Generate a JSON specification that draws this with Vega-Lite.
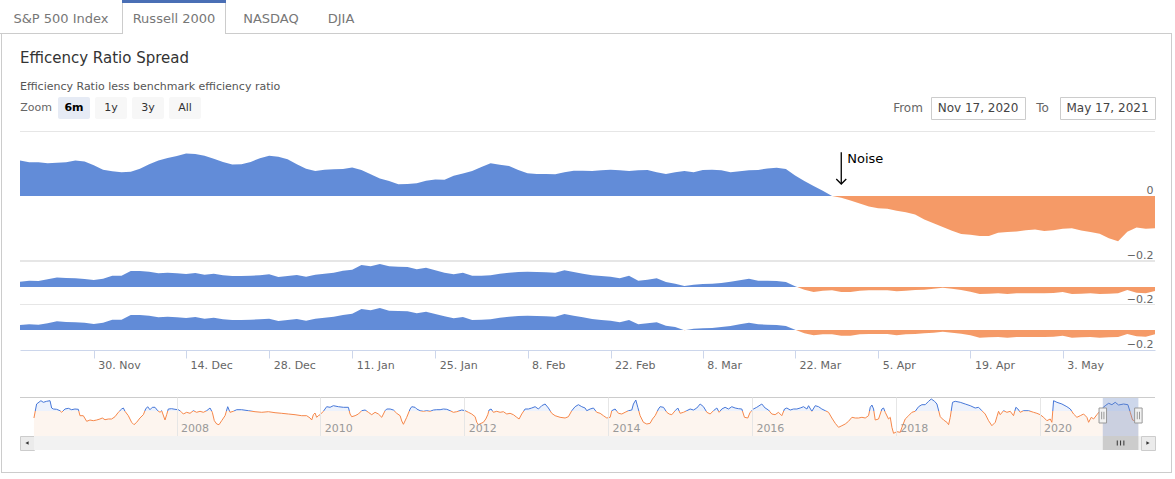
{
  "$schema": "https://vega.github.io/schema/vega-lite/v6.json",
  "padding": 0,
  "background": "white",
  "config": {
    "view": {"stroke": null},
    "concat": {"spacing": 0},
    "font": "DejaVu Sans",
    "text": {"font": "DejaVu Sans"}
  },
  "datasets": {
    "one": [{"k": 1}],
    "days": [
      {"d":"2020-11-17","a":0.109,"b":0.059,"c":0.050},
      {"d":"2020-11-18","a":0.104,"b":0.070,"c":0.057},
      {"d":"2020-11-19","a":0.104,"b":0.067,"c":0.053},
      {"d":"2020-11-20","a":0.101,"b":0.085,"c":0.067},
      {"d":"2020-11-23","a":0.102,"b":0.107,"c":0.087},
      {"d":"2020-11-24","a":0.104,"b":0.100,"c":0.080},
      {"d":"2020-11-25","a":0.109,"b":0.096,"c":0.077},
      {"d":"2020-11-27","a":0.106,"b":0.089,"c":0.073},
      {"d":"2020-11-30","a":0.095,"b":0.078,"c":0.060},
      {"d":"2020-12-01","a":0.081,"b":0.093,"c":0.073},
      {"d":"2020-12-02","a":0.076,"b":0.126,"c":0.103},
      {"d":"2020-12-03","a":0.073,"b":0.126,"c":0.103},
      {"d":"2020-12-04","a":0.075,"b":0.178,"c":0.150},
      {"d":"2020-12-07","a":0.084,"b":0.178,"c":0.150},
      {"d":"2020-12-08","a":0.098,"b":0.170,"c":0.143},
      {"d":"2020-12-09","a":0.109,"b":0.152,"c":0.127},
      {"d":"2020-12-10","a":0.117,"b":0.159,"c":0.133},
      {"d":"2020-12-11","a":0.123,"b":0.152,"c":0.127},
      {"d":"2020-12-14","a":0.131,"b":0.144,"c":0.120},
      {"d":"2020-12-15","a":0.129,"b":0.156,"c":0.130},
      {"d":"2020-12-16","a":0.124,"b":0.137,"c":0.113},
      {"d":"2020-12-17","a":0.115,"b":0.148,"c":0.123},
      {"d":"2020-12-18","a":0.105,"b":0.130,"c":0.107},
      {"d":"2020-12-21","a":0.097,"b":0.122,"c":0.100},
      {"d":"2020-12-22","a":0.098,"b":0.122,"c":0.100},
      {"d":"2020-12-23","a":0.105,"b":0.126,"c":0.103},
      {"d":"2020-12-24","a":0.116,"b":0.130,"c":0.107},
      {"d":"2020-12-28","a":0.124,"b":0.141,"c":0.113},
      {"d":"2020-12-29","a":0.121,"b":0.111,"c":0.090},
      {"d":"2020-12-30","a":0.113,"b":0.122,"c":0.100},
      {"d":"2020-12-31","a":0.098,"b":0.133,"c":0.110},
      {"d":"2021-01-04","a":0.084,"b":0.115,"c":0.093},
      {"d":"2021-01-05","a":0.077,"b":0.137,"c":0.113},
      {"d":"2021-01-06","a":0.081,"b":0.148,"c":0.123},
      {"d":"2021-01-07","a":0.082,"b":0.159,"c":0.133},
      {"d":"2021-01-08","a":0.083,"b":0.181,"c":0.150},
      {"d":"2021-01-11","a":0.088,"b":0.193,"c":0.163},
      {"d":"2021-01-12","a":0.080,"b":0.244,"c":0.210},
      {"d":"2021-01-13","a":0.067,"b":0.230,"c":0.197},
      {"d":"2021-01-14","a":0.054,"b":0.256,"c":0.220},
      {"d":"2021-01-15","a":0.046,"b":0.230,"c":0.193},
      {"d":"2021-01-19","a":0.036,"b":0.226,"c":0.190},
      {"d":"2021-01-20","a":0.037,"b":0.222,"c":0.187},
      {"d":"2021-01-21","a":0.039,"b":0.196,"c":0.167},
      {"d":"2021-01-22","a":0.047,"b":0.215,"c":0.183},
      {"d":"2021-01-25","a":0.051,"b":0.187,"c":0.161},
      {"d":"2021-01-26","a":0.050,"b":0.159,"c":0.137},
      {"d":"2021-01-27","a":0.062,"b":0.141,"c":0.117},
      {"d":"2021-01-28","a":0.069,"b":0.159,"c":0.130},
      {"d":"2021-01-29","a":0.077,"b":0.126,"c":0.100},
      {"d":"2021-02-01","a":0.089,"b":0.126,"c":0.103},
      {"d":"2021-02-02","a":0.101,"b":0.130,"c":0.107},
      {"d":"2021-02-03","a":0.096,"b":0.148,"c":0.123},
      {"d":"2021-02-04","a":0.092,"b":0.159,"c":0.133},
      {"d":"2021-02-05","a":0.080,"b":0.167,"c":0.140},
      {"d":"2021-02-08","a":0.070,"b":0.170,"c":0.143},
      {"d":"2021-02-09","a":0.068,"b":0.167,"c":0.140},
      {"d":"2021-02-10","a":0.068,"b":0.163,"c":0.137},
      {"d":"2021-02-11","a":0.067,"b":0.159,"c":0.133},
      {"d":"2021-02-12","a":0.073,"b":0.185,"c":0.160},
      {"d":"2021-02-16","a":0.078,"b":0.167,"c":0.143},
      {"d":"2021-02-17","a":0.078,"b":0.148,"c":0.127},
      {"d":"2021-02-18","a":0.077,"b":0.130,"c":0.110},
      {"d":"2021-02-19","a":0.079,"b":0.122,"c":0.100},
      {"d":"2021-02-22","a":0.081,"b":0.115,"c":0.093},
      {"d":"2021-02-23","a":0.079,"b":0.096,"c":0.077},
      {"d":"2021-02-24","a":0.077,"b":0.126,"c":0.100},
      {"d":"2021-02-25","a":0.079,"b":0.070,"c":0.057},
      {"d":"2021-02-26","a":0.080,"b":0.081,"c":0.067},
      {"d":"2021-03-01","a":0.073,"b":0.096,"c":0.077},
      {"d":"2021-03-02","a":0.068,"b":0.056,"c":0.043},
      {"d":"2021-03-03","a":0.073,"b":0.037,"c":0.030},
      {"d":"2021-03-04","a":0.077,"b":0.011,"c":-0.003},
      {"d":"2021-03-05","a":0.073,"b":0.026,"c":0.013},
      {"d":"2021-03-08","a":0.080,"b":0.033,"c":0.017},
      {"d":"2021-03-09","a":0.081,"b":0.037,"c":0.020},
      {"d":"2021-03-10","a":0.079,"b":0.044,"c":0.030},
      {"d":"2021-03-11","a":0.073,"b":0.059,"c":0.040},
      {"d":"2021-03-12","a":0.076,"b":0.074,"c":0.057},
      {"d":"2021-03-15","a":0.079,"b":0.093,"c":0.073},
      {"d":"2021-03-16","a":0.080,"b":0.070,"c":0.057},
      {"d":"2021-03-17","a":0.085,"b":0.070,"c":0.053},
      {"d":"2021-03-18","a":0.087,"b":0.067,"c":0.050},
      {"d":"2021-03-19","a":0.083,"b":0.056,"c":0.040},
      {"d":"2021-03-22","a":0.063,"b":0.007,"c":0.003},
      {"d":"2021-03-23","a":0.046,"b":-0.030,"c":-0.033},
      {"d":"2021-03-24","a":0.031,"b":-0.055,"c":-0.053},
      {"d":"2021-03-25","a":0.016,"b":-0.041,"c":-0.043},
      {"d":"2021-03-26","a":0.000,"b":-0.037,"c":-0.043},
      {"d":"2021-03-29","a":-0.005,"b":-0.056,"c":-0.057},
      {"d":"2021-03-30","a":-0.014,"b":-0.056,"c":-0.057},
      {"d":"2021-03-31","a":-0.023,"b":-0.041,"c":-0.043},
      {"d":"2021-04-01","a":-0.032,"b":-0.037,"c":-0.040},
      {"d":"2021-04-05","a":-0.038,"b":-0.037,"c":-0.040},
      {"d":"2021-04-06","a":-0.039,"b":-0.037,"c":-0.040},
      {"d":"2021-04-07","a":-0.045,"b":-0.048,"c":-0.053},
      {"d":"2021-04-08","a":-0.050,"b":-0.041,"c":-0.043},
      {"d":"2021-04-09","a":-0.057,"b":-0.033,"c":-0.040},
      {"d":"2021-04-12","a":-0.072,"b":-0.030,"c":-0.033},
      {"d":"2021-04-13","a":-0.084,"b":-0.019,"c":-0.027},
      {"d":"2021-04-14","a":-0.095,"b":-0.007,"c":-0.017},
      {"d":"2021-04-15","a":-0.107,"b":-0.019,"c":-0.027},
      {"d":"2021-04-16","a":-0.117,"b":-0.033,"c":-0.037},
      {"d":"2021-04-19","a":-0.119,"b":-0.052,"c":-0.053},
      {"d":"2021-04-20","a":-0.123,"b":-0.078,"c":-0.077},
      {"d":"2021-04-21","a":-0.123,"b":-0.074,"c":-0.073},
      {"d":"2021-04-22","a":-0.113,"b":-0.070,"c":-0.070},
      {"d":"2021-04-23","a":-0.111,"b":-0.078,"c":-0.077},
      {"d":"2021-04-26","a":-0.109,"b":-0.070,"c":-0.070},
      {"d":"2021-04-27","a":-0.105,"b":-0.070,"c":-0.070},
      {"d":"2021-04-28","a":-0.103,"b":-0.070,"c":-0.070},
      {"d":"2021-04-29","a":-0.108,"b":-0.070,"c":-0.070},
      {"d":"2021-04-30","a":-0.105,"b":-0.067,"c":-0.067},
      {"d":"2021-05-03","a":-0.101,"b":-0.056,"c":-0.057},
      {"d":"2021-05-04","a":-0.099,"b":-0.078,"c":-0.077},
      {"d":"2021-05-05","a":-0.106,"b":-0.074,"c":-0.073},
      {"d":"2021-05-06","a":-0.111,"b":-0.070,"c":-0.070},
      {"d":"2021-05-07","a":-0.116,"b":-0.078,"c":-0.077},
      {"d":"2021-05-10","a":-0.130,"b":-0.074,"c":-0.073},
      {"d":"2021-05-11","a":-0.139,"b":-0.070,"c":-0.070},
      {"d":"2021-05-12","a":-0.110,"b":-0.033,"c":-0.040},
      {"d":"2021-05-13","a":-0.097,"b":-0.063,"c":-0.063},
      {"d":"2021-05-14","a":-0.101,"b":-0.070,"c":-0.067},
      {"d":"2021-05-17","a":-0.099,"b":-0.044,"c":-0.043}
    ],
    "nav": [
      {"t":2006.018,"v":-0.070},{"t":2006.055,"v":0.070},{"t":2006.115,"v":0.103},{"t":2006.148,"v":0.087},
      {"t":2006.194,"v":0.097},{"t":2006.241,"v":0.103},{"t":2006.264,"v":0.030},{"t":2006.287,"v":0.020},
      {"t":2006.333,"v":0.017},{"t":2006.380,"v":0.003},{"t":2006.403,"v":-0.013},{"t":2006.449,"v":0.020},
      {"t":2006.496,"v":0.027},{"t":2006.542,"v":0.013},{"t":2006.588,"v":0.020},{"t":2006.635,"v":0.017},
      {"t":2006.658,"v":-0.047},{"t":2006.704,"v":-0.047},{"t":2006.751,"v":-0.103},{"t":2006.797,"v":-0.090},
      {"t":2006.843,"v":-0.097},{"t":2006.890,"v":-0.090},{"t":2006.936,"v":-0.080},{"t":2006.968,"v":-0.070},
      {"t":2007.006,"v":-0.087},{"t":2007.052,"v":-0.080},{"t":2007.098,"v":-0.080},{"t":2007.145,"v":-0.057},
      {"t":2007.191,"v":-0.013},{"t":2007.237,"v":0.020},{"t":2007.261,"v":0.030},{"t":2007.284,"v":-0.003},
      {"t":2007.330,"v":-0.047},{"t":2007.376,"v":-0.113},{"t":2007.409,"v":-0.137},{"t":2007.446,"v":-0.113},
      {"t":2007.492,"v":-0.070},{"t":2007.539,"v":-0.037},{"t":2007.571,"v":0.020},{"t":2007.599,"v":0.043},
      {"t":2007.631,"v":0.013},{"t":2007.664,"v":0.037},{"t":2007.701,"v":0.037},{"t":2007.738,"v":0.003},
      {"t":2007.771,"v":-0.013},{"t":2007.794,"v":0.003},{"t":2007.840,"v":-0.090},{"t":2007.863,"v":-0.037},
      {"t":2007.886,"v":0.020},{"t":2007.933,"v":0.023},{"t":2007.979,"v":0.017},{"t":2008.025,"v":0.013},
      {"t":2008.058,"v":-0.003},{"t":2008.095,"v":-0.030},{"t":2008.141,"v":-0.013},{"t":2008.188,"v":-0.023},
      {"t":2008.234,"v":0.003},{"t":2008.280,"v":-0.013},{"t":2008.327,"v":-0.003},{"t":2008.373,"v":-0.013},
      {"t":2008.420,"v":0.003},{"t":2008.466,"v":0.030},{"t":2008.498,"v":-0.013},{"t":2008.526,"v":-0.097},
      {"t":2008.559,"v":-0.130},{"t":2008.591,"v":-0.137},{"t":2008.628,"v":-0.097},{"t":2008.675,"v":-0.047},
      {"t":2008.712,"v":0.043},{"t":2008.744,"v":-0.013},{"t":2008.790,"v":-0.003},{"t":2008.837,"v":0.013},
      {"t":2008.906,"v":0.013},{"t":2008.999,"v":0.003},{"t":2009.092,"v":-0.007},{"t":2009.185,"v":-0.013},
      {"t":2009.277,"v":-0.007},{"t":2009.370,"v":-0.017},{"t":2009.463,"v":-0.023},{"t":2009.555,"v":-0.030},
      {"t":2009.648,"v":-0.037},{"t":2009.741,"v":-0.047},{"t":2009.810,"v":-0.047},{"t":2009.857,"v":-0.070},
      {"t":2009.880,"v":-0.090},{"t":2009.903,"v":-0.037},{"t":2009.926,"v":-0.020},{"t":2009.949,"v":-0.063},
      {"t":2009.972,"v":-0.047},{"t":2009.996,"v":-0.037},{"t":2010.042,"v":-0.003},{"t":2010.065,"v":0.020},
      {"t":2010.088,"v":0.043},{"t":2010.135,"v":0.037},{"t":2010.181,"v":0.053},{"t":2010.251,"v":0.043},
      {"t":2010.320,"v":0.037},{"t":2010.390,"v":0.037},{"t":2010.413,"v":-0.030},{"t":2010.436,"v":-0.057},
      {"t":2010.483,"v":-0.047},{"t":2010.529,"v":-0.030},{"t":2010.575,"v":0.003},{"t":2010.622,"v":0.010},
      {"t":2010.668,"v":-0.013},{"t":2010.714,"v":-0.037},{"t":2010.761,"v":-0.013},{"t":2010.807,"v":-0.030},
      {"t":2010.854,"v":-0.063},{"t":2010.900,"v":0.003},{"t":2010.923,"v":0.020},{"t":2010.970,"v":0.020},
      {"t":2011.016,"v":0.010},{"t":2011.062,"v":-0.023},{"t":2011.109,"v":-0.047},{"t":2011.132,"v":-0.100},
      {"t":2011.155,"v":-0.133},{"t":2011.201,"v":-0.063},{"t":2011.248,"v":0.020},{"t":2011.271,"v":0.043},
      {"t":2011.317,"v":0.037},{"t":2011.340,"v":0.020},{"t":2011.387,"v":0.003},{"t":2011.433,"v":-0.003},
      {"t":2011.479,"v":0.003},{"t":2011.526,"v":-0.003},{"t":2011.572,"v":0.010},{"t":2011.619,"v":0.013},
      {"t":2011.665,"v":0.013},{"t":2011.711,"v":0.020},{"t":2011.758,"v":0.017},{"t":2011.804,"v":0.003},
      {"t":2011.850,"v":-0.013},{"t":2011.897,"v":-0.007},{"t":2011.966,"v":0.010},{"t":2012.013,"v":0.003},
      {"t":2012.059,"v":-0.013},{"t":2012.105,"v":-0.030},{"t":2012.152,"v":-0.057},{"t":2012.175,"v":-0.113},
      {"t":2012.198,"v":-0.137},{"t":2012.235,"v":-0.123},{"t":2012.267,"v":-0.113},{"t":2012.300,"v":-0.080},
      {"t":2012.328,"v":-0.037},{"t":2012.346,"v":0.010},{"t":2012.374,"v":0.020},{"t":2012.406,"v":-0.013},
      {"t":2012.453,"v":-0.003},{"t":2012.499,"v":-0.013},{"t":2012.545,"v":-0.007},{"t":2012.592,"v":-0.030},
      {"t":2012.638,"v":-0.023},{"t":2012.684,"v":-0.037},{"t":2012.731,"v":-0.063},{"t":2012.763,"v":-0.080},
      {"t":2012.800,"v":-0.030},{"t":2012.847,"v":0.020},{"t":2012.893,"v":0.020},{"t":2012.939,"v":0.030},
      {"t":2012.986,"v":0.043},{"t":2013.032,"v":0.020},{"t":2013.078,"v":0.053},{"t":2013.125,"v":0.070},
      {"t":2013.171,"v":0.030},{"t":2013.217,"v":-0.023},{"t":2013.264,"v":-0.047},{"t":2013.333,"v":-0.063},
      {"t":2013.403,"v":-0.070},{"t":2013.449,"v":-0.057},{"t":2013.496,"v":0.003},{"t":2013.542,"v":0.043},
      {"t":2013.588,"v":0.063},{"t":2013.635,"v":0.043},{"t":2013.681,"v":0.030},{"t":2013.704,"v":0.003},
      {"t":2013.751,"v":0.020},{"t":2013.797,"v":0.030},{"t":2013.843,"v":-0.013},{"t":2013.890,"v":-0.023},
      {"t":2013.936,"v":-0.047},{"t":2013.983,"v":-0.070},{"t":2014.029,"v":-0.063},{"t":2014.052,"v":0.003},
      {"t":2014.098,"v":0.020},{"t":2014.145,"v":-0.023},{"t":2014.191,"v":-0.030},{"t":2014.237,"v":-0.013},
      {"t":2014.284,"v":0.003},{"t":2014.330,"v":0.010},{"t":2014.353,"v":0.070},{"t":2014.386,"v":0.110},
      {"t":2014.414,"v":0.037},{"t":2014.446,"v":-0.047},{"t":2014.492,"v":-0.113},{"t":2014.539,"v":-0.130},
      {"t":2014.585,"v":-0.123},{"t":2014.618,"v":-0.080},{"t":2014.655,"v":-0.047},{"t":2014.701,"v":0.020},
      {"t":2014.724,"v":0.043},{"t":2014.771,"v":0.037},{"t":2014.817,"v":-0.013},{"t":2014.850,"v":-0.030},
      {"t":2014.887,"v":-0.037},{"t":2014.933,"v":0.003},{"t":2014.970,"v":0.030},{"t":2015.003,"v":-0.023},
      {"t":2015.049,"v":-0.013},{"t":2015.095,"v":0.003},{"t":2015.142,"v":0.020},{"t":2015.188,"v":0.010},
      {"t":2015.234,"v":0.030},{"t":2015.281,"v":0.070},{"t":2015.327,"v":0.043},{"t":2015.374,"v":-0.013},
      {"t":2015.420,"v":-0.030},{"t":2015.466,"v":0.003},{"t":2015.513,"v":0.030},{"t":2015.545,"v":-0.013},
      {"t":2015.582,"v":0.020},{"t":2015.628,"v":0.037},{"t":2015.675,"v":0.020},{"t":2015.721,"v":0.043},
      {"t":2015.767,"v":0.030},{"t":2015.814,"v":0.023},{"t":2015.860,"v":0.020},{"t":2015.897,"v":-0.063},
      {"t":2015.943,"v":-0.070},{"t":2015.976,"v":-0.013},{"t":2016.022,"v":0.020},{"t":2016.068,"v":0.037},
      {"t":2016.138,"v":0.070},{"t":2016.184,"v":0.030},{"t":2016.231,"v":0.010},{"t":2016.277,"v":-0.030},
      {"t":2016.323,"v":-0.037},{"t":2016.370,"v":-0.013},{"t":2016.416,"v":-0.047},{"t":2016.454,"v":0.020},
      {"t":2016.486,"v":0.030},{"t":2016.533,"v":0.010},{"t":2016.579,"v":0.020},{"t":2016.625,"v":0.020},
      {"t":2016.672,"v":0.030},{"t":2016.718,"v":0.043},{"t":2016.765,"v":0.020},{"t":2016.788,"v":0.053},
      {"t":2016.834,"v":-0.003},{"t":2016.881,"v":0.053},{"t":2016.927,"v":0.043},{"t":2016.973,"v":0.020},
      {"t":2017.020,"v":0.003},{"t":2017.066,"v":-0.013},{"t":2017.112,"v":-0.070},{"t":2017.159,"v":-0.123},
      {"t":2017.205,"v":-0.163},{"t":2017.252,"v":-0.147},{"t":2017.298,"v":-0.130},{"t":2017.344,"v":-0.103},
      {"t":2017.391,"v":-0.063},{"t":2017.437,"v":-0.070},{"t":2017.483,"v":-0.070},{"t":2017.530,"v":-0.063},
      {"t":2017.576,"v":-0.070},{"t":2017.622,"v":-0.047},{"t":2017.646,"v":0.037},{"t":2017.669,"v":0.060},
      {"t":2017.692,"v":0.020},{"t":2017.715,"v":-0.090},{"t":2017.761,"v":-0.080},{"t":2017.808,"v":0.020},
      {"t":2017.831,"v":0.030},{"t":2017.854,"v":-0.013},{"t":2017.900,"v":-0.080},{"t":2017.924,"v":-0.063},
      {"t":2017.947,"v":-0.163},{"t":2017.970,"v":-0.223},{"t":2018.016,"v":-0.207},{"t":2018.063,"v":-0.213},
      {"t":2018.086,"v":-0.163},{"t":2018.132,"v":-0.080},{"t":2018.179,"v":-0.047},{"t":2018.225,"v":-0.013},
      {"t":2018.271,"v":-0.003},{"t":2018.318,"v":0.043},{"t":2018.364,"v":0.063},{"t":2018.410,"v":0.063},
      {"t":2018.457,"v":0.097},{"t":2018.494,"v":0.120},{"t":2018.540,"v":0.097},{"t":2018.573,"v":0.070},
      {"t":2018.619,"v":-0.057},{"t":2018.665,"v":-0.090},{"t":2018.712,"v":-0.113},{"t":2018.735,"v":-0.137},
      {"t":2018.758,"v":-0.063},{"t":2018.790,"v":0.087},{"t":2018.827,"v":0.097},{"t":2018.897,"v":0.087},
      {"t":2018.966,"v":0.070},{"t":2019.036,"v":0.053},{"t":2019.105,"v":0.030},{"t":2019.152,"v":0.037},
      {"t":2019.198,"v":0.003},{"t":2019.244,"v":-0.030},{"t":2019.291,"v":-0.097},{"t":2019.337,"v":-0.147},
      {"t":2019.384,"v":-0.113},{"t":2019.407,"v":-0.057},{"t":2019.430,"v":-0.003},{"t":2019.453,"v":-0.037},
      {"t":2019.499,"v":0.003},{"t":2019.546,"v":-0.013},{"t":2019.592,"v":-0.003},{"t":2019.638,"v":-0.047},
      {"t":2019.671,"v":0.037},{"t":2019.699,"v":0.020},{"t":2019.731,"v":-0.013},{"t":2019.777,"v":0.003},
      {"t":2019.847,"v":0.003},{"t":2019.916,"v":-0.013},{"t":2019.963,"v":-0.023},{"t":2020.009,"v":-0.037},
      {"t":2020.056,"v":-0.063},{"t":2020.102,"v":-0.097},{"t":2020.148,"v":-0.080},{"t":2020.171,"v":-0.113},
      {"t":2020.195,"v":0.103},{"t":2020.241,"v":0.087},{"t":2020.311,"v":0.070},{"t":2020.380,"v":0.043},
      {"t":2020.427,"v":0.020},{"t":2020.473,"v":-0.030},{"t":2020.519,"v":-0.063},{"t":2020.566,"v":-0.047},
      {"t":2020.612,"v":-0.030},{"t":2020.658,"v":-0.063},{"t":2020.682,"v":-0.113},{"t":2020.719,"v":-0.063},
      {"t":2020.751,"v":-0.080},{"t":2020.797,"v":-0.037},{"t":2020.844,"v":0.003},{"t":2020.876,"v":0.030},
      {"t":2020.913,"v":0.053},{"t":2020.960,"v":0.077},{"t":2021.006,"v":0.063},{"t":2021.052,"v":0.087},
      {"t":2021.099,"v":0.060},{"t":2021.168,"v":0.070},{"t":2021.228,"v":0.063},{"t":2021.261,"v":-0.013},
      {"t":2021.293,"v":-0.090},{"t":2021.321,"v":-0.097},{"t":2021.374,"v":-0.097}
    ],
    "range": [{"t0": 2020.879, "t1": 2021.374, "tm": 2021.126}],
    "ends": [{"t": 2020.879}, {"t": 2021.374}]
  },
  "vconcat": [
    {
      "hconcat": [
        {"width": 122, "height": 33, "data": {"name": "one"}, "mark": {"type": "text", "text": "S&P 500 Index", "fontSize": 13, "color": "#777777", "dy": 2}},
        {
          "vconcat": [
            {"width": 104, "height": 3, "view": {"fill": "#4a6fb5"}, "data": {"name": "one"}, "mark": {"type": "text", "text": "", "fontSize": 0}},
            {
              "hconcat": [
                {"width": 1, "height": 30, "view": {"fill": "#cccccc"}, "data": {"name": "one"}, "mark": {"type": "text", "text": "", "fontSize": 0}},
                {"width": 102, "height": 30, "data": {"name": "one"}, "mark": {"type": "text", "text": "Russell 2000", "fontSize": 13, "color": "#777777", "dy": 0.5}},
                {"width": 1, "height": 30, "view": {"fill": "#cccccc"}, "data": {"name": "one"}, "mark": {"type": "text", "text": "", "fontSize": 0}}
              ],
              "spacing": 0, "bounds": "flush"
            }
          ],
          "spacing": 0, "bounds": "flush"
        },
        {"width": 104, "height": 33, "data": {"name": "one"}, "mark": {"type": "text", "text": "", "fontSize": 0}},
        {"width": 90, "height": 33, "data": {"name": "one"}, "mark": {"type": "text", "text": "NASDAQ", "fontSize": 13, "color": "#777777", "dy": 2}},
        {"width": 50, "height": 33, "data": {"name": "one"}, "mark": {"type": "text", "text": "DJIA", "fontSize": 13, "color": "#777777", "dy": 2}},
        {"width": 809, "height": 33, "data": {"name": "one"}, "mark": {"type": "text", "text": "", "fontSize": 0}}
      ],
      "spacing": 0, "bounds": "flush"
    },
    {"width": 1175, "height": 33, "data": {"name": "one"}, "mark": {"type": "text", "text": "", "fontSize": 0}},
    {
      "hconcat": [
        {"width": 123, "height": 1, "view": {"fill": "#cccccc"}, "data": {"name": "one"}, "mark": {"type": "text", "text": "", "fontSize": 0}},
        {"width": 102, "height": 1, "data": {"name": "one"}, "mark": {"type": "text", "text": "", "fontSize": 0}},
        {"width": 947, "height": 1, "view": {"fill": "#cccccc"}, "data": {"name": "one"}, "mark": {"type": "text", "text": "", "fontSize": 0}},
        {"width": 3, "height": 1, "data": {"name": "one"}, "mark": {"type": "text", "text": "", "fontSize": 0}}
      ],
      "spacing": 0, "bounds": "flush"
    },
    {"width": 1175, "height": 1, "data": {"name": "one"}, "mark": {"type": "text", "text": "", "fontSize": 0}},
    {
      "hconcat": [
        {"width": 1, "height": 438, "data": {"name": "one"}, "mark": {"type": "text", "text": "", "fontSize": 0}},
        {"width": 1, "height": 438, "view": {"fill": "#cccccc"}, "data": {"name": "one"}, "mark": {"type": "text", "text": "", "fontSize": 0}},
        {"width": 18, "height": 438, "data": {"name": "one"}, "mark": {"type": "text", "text": "", "fontSize": 0}},
        {
          "vconcat": [
            {"width": 1135, "height": 63, "data": {"name": "one"}, "mark": {"type": "text", "text": "", "fontSize": 0}},
            {
              "hconcat": [
                {
                  "width": 32, "height": 22, "data": {"name": "one"},
                  "title": {
                    "text": "Efficency Ratio Spread",
                    "subtitle": "Efficiency Ratio less benchmark efficiency ratio",
                    "anchor": "start", "orient": "top", "offset": 5,
                    "font": "DejaVu Sans", "fontSize": 15, "fontWeight": "normal", "color": "#333333",
                    "subtitleFont": "DejaVu Sans", "subtitleFontSize": 11, "subtitleColor": "#555555", "subtitlePadding": 15
                  },
                  "mark": {"type": "text", "text": "Zoom", "fontSize": 11, "color": "#666666"}
                },
                {"width": 6, "height": 22, "data": {"name": "one"}, "mark": {"type": "text", "text": "", "fontSize": 0}},
                {"width": 32, "height": 22, "view": {"fill": "#e6ebf5", "cornerRadius": 2}, "data": {"name": "one"}, "mark": {"type": "text", "text": "6m", "fontSize": 11, "fontWeight": "bold", "color": "#000000"}},
                {"width": 5, "height": 22, "data": {"name": "one"}, "mark": {"type": "text", "text": "", "fontSize": 0}},
                {"width": 32, "height": 22, "view": {"fill": "#f7f7f7", "cornerRadius": 2}, "data": {"name": "one"}, "mark": {"type": "text", "text": "1y", "fontSize": 11, "color": "#333333"}},
                {"width": 5, "height": 22, "data": {"name": "one"}, "mark": {"type": "text", "text": "", "fontSize": 0}},
                {"width": 32, "height": 22, "view": {"fill": "#f7f7f7", "cornerRadius": 2}, "data": {"name": "one"}, "mark": {"type": "text", "text": "3y", "fontSize": 11, "color": "#333333"}},
                {"width": 5, "height": 22, "data": {"name": "one"}, "mark": {"type": "text", "text": "", "fontSize": 0}},
                {"width": 32, "height": 22, "view": {"fill": "#f7f7f7", "cornerRadius": 2}, "data": {"name": "one"}, "mark": {"type": "text", "text": "All", "fontSize": 11, "color": "#333333"}},
                {"width": 687, "height": 22, "data": {"name": "one"}, "mark": {"type": "text", "text": "", "fontSize": 0}},
                {"width": 40, "height": 22, "data": {"name": "one"}, "mark": {"type": "text", "text": "From", "fontSize": 12, "color": "#666666"}},
                {"width": 3, "height": 22, "data": {"name": "one"}, "mark": {"type": "text", "text": "", "fontSize": 0}},
                {"width": 94, "height": 22, "view": {"fill": "white", "stroke": "#cccccc"}, "data": {"name": "one"}, "mark": {"type": "text", "text": "Nov 17, 2020", "fontSize": 12, "color": "#444444"}},
                {"width": 35, "height": 22, "data": {"name": "one"}, "mark": {"type": "text", "text": "To", "fontSize": 12, "color": "#666666"}},
                {"width": 95, "height": 22, "view": {"fill": "white", "stroke": "#cccccc"}, "data": {"name": "one"}, "mark": {"type": "text", "text": "May 17, 2021", "fontSize": 12, "color": "#444444"}}
              ],
              "spacing": 0, "bounds": "flush"
            },
            {"width": 1135, "height": 22, "data": {"name": "one"}, "mark": {"type": "text", "text": "", "fontSize": 0}},
            {"width": 1135, "height": 12, "data": {"name": "one"}, "mark": {"type": "text", "text": "", "fontSize": 0}},
            {
              "width": 1135, "height": 130,
              "layer": [
                {"data": {"name": "one"}, "mark": {"type": "rule", "color": "#e6e6e6", "strokeWidth": 1}, "encoding": {"y": {"datum": 0.19846, "type": "quantitative"}}},
                {"data": {"name": "one"}, "mark": {"type": "rule", "color": "#e6e6e6", "strokeWidth": 1}, "encoding": {"y": {"datum": -0.19846, "type": "quantitative"}}},
                {
                  "data": {"name": "days"},
                  "mark": {"type": "area", "fill": {"gradient": "linear", "x1": 0, "y1": 0, "x2": 0, "y2": 1, "stops": [{"offset": 0, "color": "#628cd8"}, {"offset": 0.48519, "color": "#628cd8"}, {"offset": 0.48519, "color": "#f59a67"}, {"offset": 1, "color": "#f59a67"}]}},
                  "encoding": {
                    "x": {"field": "d", "type": "ordinal", "scale": {"type": "point", "padding": 0}, "axis": null},
                    "y": {"field": "a", "type": "quantitative", "stack": null, "scale": {"domain": [-0.2, 0.2], "nice": false, "zero": false},
                      "axis": {"orient": "right", "values": [0, -0.2], "format": "~g", "title": null, "domain": false, "ticks": false, "tickSize": 0, "grid": false, "labelAlign": "right", "labelPadding": -2, "labelBaseline": "bottom", "labelOffset": -1, "labelColor": "#666666", "labelFontSize": 11, "labelFont": "DejaVu Sans"}},
                    "y2": {"datum": 0}
                  }
                },
                {"data": {"values": [{"d": "2021-03-29"}]}, "mark": {"type": "rule", "color": "#000000", "strokeWidth": 1.3}, "encoding": {"x": {"field": "d", "type": "ordinal"}, "y": {"datum": 0.135}, "y2": {"datum": 0.039}}},
                {"data": {"values": [{"d": "2021-03-29"}]}, "mark": {"type": "point", "shape": "M-1,-1L0,0L1,-1", "filled": false, "color": "#000000", "size": 100, "strokeWidth": 1.3, "opacity": 1}, "encoding": {"x": {"field": "d", "type": "ordinal"}, "y": {"datum": 0.037}}},
                {"data": {"values": [{"d": "2021-03-29"}]}, "mark": {"type": "text", "text": "Noise", "align": "left", "dx": 6, "fontSize": 13, "color": "#000000"}, "encoding": {"x": {"field": "d", "type": "ordinal"}, "y": {"datum": 0.114}}}
              ]
            },
            {
              "width": 1135, "height": 44,
              "layer": [
                {"data": {"name": "one"}, "mark": {"type": "rule", "color": "#e6e6e6", "strokeWidth": 1}, "encoding": {"y": {"datum": 0.28344, "type": "quantitative"}}},
                {"data": {"name": "one"}, "mark": {"type": "rule", "color": "#e6e6e6", "strokeWidth": 1}, "encoding": {"y": {"datum": -0.19444, "type": "quantitative"}}},
                {
                  "data": {"name": "days"},
                  "mark": {"type": "area", "fill": {"gradient": "linear", "x1": 0, "y1": 0, "x2": 0, "y2": 1, "stops": [{"offset": 0, "color": "#628cd8"}, {"offset": 0.76647, "color": "#628cd8"}, {"offset": 0.76647, "color": "#f59a67"}, {"offset": 1, "color": "#f59a67"}]}},
                  "encoding": {
                    "x": {"field": "d", "type": "ordinal", "scale": {"type": "point", "padding": 0}, "axis": null},
                    "y": {"field": "b", "type": "quantitative", "stack": null, "scale": {"domain": [-0.2, 0.289], "nice": false, "zero": false},
                      "axis": {"orient": "right", "values": [-0.2], "format": "~g", "title": null, "domain": false, "ticks": false, "tickSize": 0, "grid": false, "labelAlign": "right", "labelPadding": -2, "labelBaseline": "bottom", "labelOffset": -1, "labelColor": "#666666", "labelFontSize": 11, "labelFont": "DejaVu Sans"}},
                    "y2": {"datum": 0}
                  }
                }
              ]
            },
            {
              "width": 1135, "height": 45,
              "layer": [
                {
                  "data": {"name": "days"},
                  "mark": {"type": "area", "fill": {"gradient": "linear", "x1": 0, "y1": 0, "x2": 0, "y2": 1, "stops": [{"offset": 0, "color": "#628cd8"}, {"offset": 0.74074, "color": "#628cd8"}, {"offset": 0.74074, "color": "#f59a67"}, {"offset": 1, "color": "#f59a67"}]}},
                  "encoding": {
                    "x": {"field": "d", "type": "ordinal", "scale": {"type": "point", "padding": 0},
                      "axis": {"values": ["2020-11-30", "2020-12-14", "2020-12-28", "2021-01-11", "2021-01-25", "2021-02-08", "2021-02-22", "2021-03-08", "2021-03-22", "2021-04-05", "2021-04-19", "2021-05-03"],
                        "labelExpr": "utcFormat(toDate(datum.value), '%-d. %b')", "title": null, "grid": false, "labelAngle": 0, "labelOverlap": false,
                        "domainColor": "#ccd6eb", "tickColor": "#ccd6eb", "tickSize": 8, "labelAlign": "left", "labelOffset": 4, "labelPadding": 1,
                        "labelColor": "#666666", "labelFontSize": 11, "labelFont": "DejaVu Sans"}},
                    "y": {"field": "c", "type": "quantitative", "stack": null, "scale": {"domain": [-0.2, 0.25], "nice": false, "zero": false},
                      "axis": {"orient": "right", "values": [-0.2], "format": "~g", "title": null, "domain": false, "ticks": false, "tickSize": 0, "grid": false, "labelAlign": "right", "labelPadding": -2, "labelBaseline": "bottom", "labelOffset": -1, "labelColor": "#666666", "labelFontSize": 11, "labelFont": "DejaVu Sans"}},
                    "y2": {"datum": 0}
                  }
                }
              ]
            },
            {"width": 1135, "height": 47, "data": {"name": "one"}, "mark": {"type": "text", "text": "", "fontSize": 0}},
            {
              "width": 1135, "height": 39,
              "layer": [
                {
                  "data": {"name": "nav"},
                  "mark": {"type": "area", "fill": {"gradient": "linear", "x1": 0, "y1": 0, "x2": 0, "y2": 1, "stops": [{"offset": 0, "color": "#edf2fc"}, {"offset": 0.32432, "color": "#edf2fc"}, {"offset": 0.32432, "color": "#fdf5ef"}, {"offset": 1, "color": "#fdf5ef"}]}},
                  "encoding": {
                    "x": {"field": "t", "type": "quantitative", "scale": {"domain": [2005.824, 2021.605], "nice": false, "zero": false},
                      "axis": {"values": [2008, 2010, 2012, 2014, 2016, 2018, 2020], "format": "d", "title": null, "grid": true, "gridColor": "#e6e6e6", "domain": false, "ticks": false, "tickSize": 0, "zindex": 1,
                        "labelAlign": "left", "labelBaseline": "alphabetic", "labelOffset": 4, "labelPadding": -5, "labelFlush": false, "labelOverlap": false, "labelBound": false,
                        "labelColor": "#999999", "labelFontSize": 11, "labelFont": "DejaVu Sans"}},
                    "y": {"field": "v", "type": "quantitative", "stack": null, "scale": {"domain": [-0.25, 0.14], "nice": false, "zero": false}, "axis": null},
                    "y2": {"datum": -0.25}
                  }
                },
                {
                  "data": {"name": "nav"},
                  "mark": {"type": "line", "strokeWidth": 1, "stroke": {"gradient": "linear", "x1": 0, "y1": 0, "x2": 0, "y2": 1, "stops": [{"offset": 0, "color": "#4677d8"}, {"offset": 0.34985, "color": "#4677d8"}, {"offset": 0.34985, "color": "#f5874a"}, {"offset": 1, "color": "#f5874a"}]}},
                  "encoding": {
                    "x": {"field": "t", "type": "quantitative"},
                    "y": {"field": "v", "type": "quantitative"}
                  }
                },
                {"data": {"name": "range"}, "mark": {"type": "rect", "color": "#6685c2", "opacity": 0.33}, "encoding": {"x": {"field": "t0", "type": "quantitative"}, "x2": {"field": "t1"}, "y": {"datum": 0.14}, "y2": {"datum": -0.25}}},
                {"data": {"name": "one"}, "mark": {"type": "rule", "color": "#cccccc", "strokeWidth": 1}, "encoding": {"y": {"datum": 0.135, "type": "quantitative"}}},
                {"data": {"name": "ends"}, "mark": {"type": "point", "shape": "M-0.5,-1H0.5V1H-0.5Z M-0.15,-0.5V0.5 M0.15,-0.5V0.5", "filled": true, "fill": "#f2f2f2", "stroke": "#999999", "strokeWidth": 1, "size": 225, "opacity": 1}, "encoding": {"x": {"field": "t", "type": "quantitative"}, "y": {"datum": -0.045}}}
              ]
            },
            {
              "hconcat": [
                {"width": 14, "height": 14, "view": {"fill": "#ebebeb", "stroke": "#cccccc"}, "data": {"name": "one"}, "mark": {"type": "point", "shape": "triangle-left", "size": 14, "filled": true, "color": "#333333", "opacity": 1}},
                {
                  "width": 1107, "height": 14, "view": {"fill": "#f2f2f2"},
                  "data": {"name": "range"},
                  "layer": [
                    {"mark": {"type": "rect", "color": "#cccccc"}, "encoding": {"x": {"field": "t0", "type": "quantitative", "scale": {"domain": [2006.019, 2021.41], "nice": false, "zero": false}, "axis": null}, "x2": {"field": "t1"}}},
                    {"mark": {"type": "point", "shape": "M-0.66,-0.5V0.5M0,-0.5V0.5M0.66,-0.5V0.5", "filled": false, "color": "#333333", "size": 100, "strokeWidth": 1, "opacity": 1}, "encoding": {"x": {"field": "tm", "type": "quantitative"}}}
                  ]
                },
                {"width": 14, "height": 14, "view": {"fill": "#ebebeb", "stroke": "#cccccc"}, "data": {"name": "one"}, "mark": {"type": "point", "shape": "triangle-right", "size": 14, "filled": true, "color": "#333333", "opacity": 1}}
              ],
              "spacing": 0, "bounds": "flush"
            },
            {"width": 1135, "height": 14, "data": {"name": "one"}, "mark": {"type": "text", "text": "", "fontSize": 0}},
            {"width": 1135, "height": 22, "data": {"name": "one"}, "mark": {"type": "text", "text": "", "fontSize": 0}}
          ],
          "spacing": 0, "bounds": "flush"
        },
        {"width": 1135, "height": 438, "data": {"name": "one"}, "mark": {"type": "text", "text": "", "fontSize": 0}},
        {"width": 16, "height": 438, "data": {"name": "one"}, "mark": {"type": "text", "text": "", "fontSize": 0}},
        {"width": 1, "height": 438, "view": {"fill": "#cccccc"}, "data": {"name": "one"}, "mark": {"type": "text", "text": "", "fontSize": 0}},
        {"width": 3, "height": 438, "data": {"name": "one"}, "mark": {"type": "text", "text": "", "fontSize": 0}}
      ],
      "spacing": 0, "bounds": "flush"
    },
    {"width": 1175, "height": 438, "data": {"name": "one"}, "mark": {"type": "text", "text": "", "fontSize": 0}},
    {
      "hconcat": [
        {"width": 1, "height": 1, "data": {"name": "one"}, "mark": {"type": "text", "text": "", "fontSize": 0}},
        {"width": 1171, "height": 1, "view": {"fill": "#cccccc"}, "data": {"name": "one"}, "mark": {"type": "text", "text": "", "fontSize": 0}},
        {"width": 3, "height": 1, "data": {"name": "one"}, "mark": {"type": "text", "text": "", "fontSize": 0}}
      ],
      "spacing": 0, "bounds": "flush"
    },
    {"width": 1175, "height": 1, "data": {"name": "one"}, "mark": {"type": "text", "text": "", "fontSize": 0}}
  ],
  "spacing": 0,
  "bounds": "flush"
}
